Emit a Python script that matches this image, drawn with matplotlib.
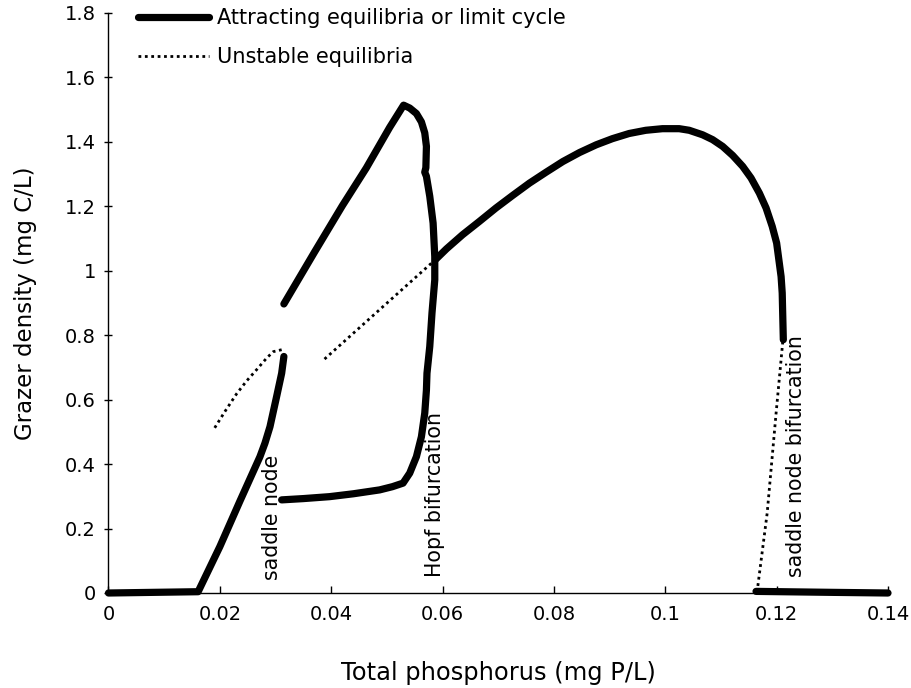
import matplotlib
matplotlib.use('Agg')
import matplotlib.pyplot as plt
from matplotlib.lines import Line2D

# ---- data ----
low_stable_x = [0.0, 0.0080, 0.0161, 0.0200, 0.0236, 0.0272, 0.0281, 0.0290, 0.0302, 0.0311, 0.0315]
low_stable_y = [0.0, 0.002, 0.004, 0.144, 0.285, 0.423, 0.465, 0.516, 0.610, 0.682, 0.734]

low_unstable_x = [0.0311, 0.0296, 0.0284, 0.0266, 0.0248, 0.0230, 0.0209, 0.0188]
low_unstable_y = [0.755, 0.749, 0.729, 0.693, 0.658, 0.618, 0.563, 0.505]

cycle_x = [0.0315, 0.0370, 0.0420, 0.0463, 0.0505, 0.0530, 0.0541, 0.0553, 0.0562,
           0.0568, 0.0571, 0.0570, 0.0568, 0.0571, 0.0577, 0.0583, 0.0586, 0.0586,
           0.0581, 0.0577, 0.0572, 0.0571, 0.0568, 0.0562, 0.0553, 0.0541, 0.0529,
           0.0510, 0.0487, 0.0440, 0.0397, 0.0350, 0.0311]
cycle_y = [0.897, 1.058, 1.202, 1.319, 1.445, 1.514, 1.505, 1.488, 1.462,
           1.428, 1.386, 1.320, 1.306, 1.293, 1.231, 1.148, 1.044, 0.972,
           0.869, 0.765, 0.682, 0.630, 0.558, 0.485, 0.423, 0.372, 0.341,
           0.330, 0.320, 0.308, 0.299, 0.293, 0.289]

mid_unstable_x = [0.0388, 0.0588]
mid_unstable_y = [0.726, 1.036]

hump_x = [0.0588, 0.0607, 0.0636, 0.0666, 0.0696, 0.0726, 0.0756, 0.0786, 0.0816,
          0.0846, 0.0876, 0.0905, 0.0935, 0.0965, 0.0995, 0.1025, 0.1043, 0.1067,
          0.1085, 0.1103, 0.1121, 0.1139, 0.1154, 0.1169, 0.1181, 0.1192, 0.1200,
          0.1204, 0.1208, 0.1210, 0.1211, 0.1212]
hump_y = [1.036, 1.068, 1.112, 1.153, 1.195, 1.234, 1.272, 1.306, 1.339,
          1.367, 1.391, 1.410, 1.426, 1.436, 1.441, 1.441, 1.436, 1.422,
          1.407, 1.386, 1.358, 1.324, 1.288, 1.241, 1.195, 1.138, 1.086,
          1.034, 0.982, 0.931, 0.858, 0.786]

high_unstable_x = [0.1211, 0.1199, 0.1183, 0.1165]
high_unstable_y = [0.780, 0.558, 0.248, 0.005]

high_stable_x = [0.1163, 0.1300, 0.1400]
high_stable_y = [0.005, 0.002, 0.0]

x_ticks = [0, 0.02, 0.04, 0.06, 0.08, 0.1, 0.12, 0.14]
x_ticklabels = ['0', '0.02', '0.04', '0.06', '0.08', '0.1', '0.12', '0.14']
y_ticks = [0, 0.2, 0.4, 0.6, 0.8, 1.0, 1.2, 1.4, 1.6, 1.8]
y_ticklabels = ['0', '0.2', '0.4', '0.6', '0.8', '1', '1.2', '1.4', '1.6', '1.8']

annotations = [("saddle node", 0.0293, 0.04),
               ("Hopf bifurcation", 0.0586, 0.05),
               ("saddle node bifurcation", 0.1234, 0.05)]

legend_labels = ["Attracting equilibria or limit cycle", "Unstable equilibria"]

# ---- plotting ----
plt.rcParams['font.family'] = ['DejaVu Sans']
W, H = 912, 688
fig = plt.figure(figsize=(W / 100, H / 100), dpi=100)
ax = fig.add_axes([108.5 / W, 1 - 593 / H, (888 - 108.5) / W, (593 - 13) / H])

thick = dict(color='black', lw=5.2, solid_capstyle='round', solid_joinstyle='round',
             clip_on=False, zorder=3)
dotted = dict(color='black', lw=2.0, linestyle=(0, (1, 1.3)), clip_on=False, zorder=2)

ax.plot(low_stable_x, low_stable_y, **thick)
ax.plot(cycle_x, cycle_y, **thick)
ax.plot(hump_x, hump_y, **thick)
ax.plot(high_stable_x, high_stable_y, **thick)
ax.plot(low_unstable_x, low_unstable_y, **dotted)
ax.plot(mid_unstable_x, mid_unstable_y, **dotted)
ax.plot(high_unstable_x, high_unstable_y, **dotted)

for txt, x, y in annotations:
    ax.text(x, y, txt, rotation=90, ha='center', va='bottom', fontsize=14.8)

ax.set_xlim(0, 0.14)
ax.set_ylim(0, 1.8)
ax.set_xticks(x_ticks)
ax.set_xticklabels(x_ticklabels)
ax.set_yticks(y_ticks)
ax.set_yticklabels(y_ticklabels)
ax.tick_params(axis='x', direction='in', length=5, width=1, labelsize=14, pad=9)
ax.tick_params(axis='y', direction='inout', length=6, width=1, labelsize=14, pad=6)
for s in ['top', 'right']:
    ax.spines[s].set_visible(False)
for s in ['left', 'bottom']:
    ax.spines[s].set_linewidth(1.0)

ax.set_xlabel("Total phosphorus (mg P/L)", fontsize=17.4, labelpad=26)
ax.set_ylabel("Grazer density (mg C/L)", fontsize=16.5, labelpad=20)

handles = [Line2D([], [], color='black', lw=5.2, solid_capstyle='round'),
           Line2D([], [], color='black', lw=2.0, linestyle=(0, (1, 1.3)))]
fig.legend(handles, legend_labels, loc='upper left',
           bbox_to_anchor=(138 / W, 1 - 8 / H), bbox_transform=fig.transFigure,
           frameon=False, fontsize=15, handlelength=3.4, handletextpad=0.4,
           labelspacing=0.92, borderpad=0, borderaxespad=0)

fig.savefig('out.png', dpi=100)
